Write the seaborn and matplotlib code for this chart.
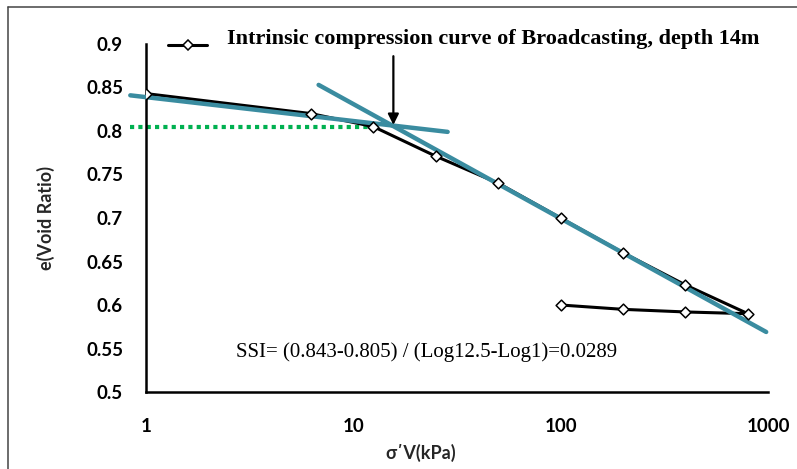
import numpy as np
import matplotlib
matplotlib.use("Agg")
import matplotlib.pyplot as plt
from matplotlib.lines import Line2D
from matplotlib.ticker import FuncFormatter, NullLocator, FixedLocator
import seaborn as sns

# Oedometer test: effective vertical stress (kPa) and void ratio, loading then unloading
stress_kpa = [1, 6.25, 12.5, 25, 50, 100, 200, 400, 800, 400, 200, 100]
void_ratio = [0.843, 0.820, 0.805, 0.771, 0.740, 0.700, 0.660, 0.623, 0.590, 0.592, 0.595, 0.600]

# Construction lines: recompression tangent, virgin compression tangent, e at yield
recomp_x = [0.84, 28.5]
recomp_e = [0.841, 0.799]
virgin_x = [6.8, 980]
virgin_e = [0.853, 0.569]
yield_x = [0.84, 13.5]
yield_e = [0.805, 0.805]

# Intersection of the two tangents (yield point)
arrow_x = 15.6
arrow_e = [0.886, 0.807]

x_ticks = [1, 10, 100, 1000]
y_ticks = [0.5, 0.55, 0.6, 0.65, 0.7, 0.75, 0.8, 0.85, 0.9]

curve_label = "Intrinsic compression curve of Broadcasting, depth 14m"
ssi_text = "SSI= (0.843-0.805) / (Log12.5-Log1)=0.0289"

sns.set_style("white")
plt.rcParams["font.family"] = ["Lato", "DejaVu Sans"]

W, H = 797, 469
fig = plt.figure(figsize=(W / 100, H / 100), dpi=100)
ax_l, ax_r, ax_t, ax_b = 146, 768, 44, 392
ax = fig.add_axes([ax_l / W, 1 - ax_b / H, (ax_r - ax_l) / W, (ax_b - ax_t) / H])

teal = "#3A8CA0"
green = "#00B050"

# Void ratio curve
sns.lineplot(x=stress_kpa, y=void_ratio, sort=False, estimator=None,
             color="black", lw=2.2, ax=ax, zorder=3)

# Tangent lines and yield level
sns.lineplot(x=recomp_x, y=recomp_e, sort=False, estimator=None,
             color=teal, lw=3.2, ax=ax, zorder=4)
sns.lineplot(x=virgin_x, y=virgin_e, sort=False, estimator=None,
             color=teal, lw=3.2, ax=ax, zorder=4)
sns.lineplot(x=yield_x, y=yield_e, sort=False, estimator=None,
             color=green, lw=3.0, ax=ax, zorder=2)
for ln in ax.lines[1:]:
    ln.set_clip_on(False)
ax.lines[3].set_linestyle((0, (1, 1)))
ax.lines[3].set_dash_capstyle("butt")

# Data markers on top of everything
sns.scatterplot(x=stress_kpa, y=void_ratio, marker="D", s=30,
                facecolor="white", edgecolor="black", linewidth=1.1,
                ax=ax, zorder=6)

ax.annotate("", xy=(arrow_x, arrow_e[1]), xytext=(arrow_x, arrow_e[0]),
            arrowprops=dict(arrowstyle="-|>", color="black", lw=1.6,
                            mutation_scale=16, shrinkA=0, shrinkB=0),
            zorder=7, annotation_clip=False)

ax.text(2.72, 0.546, ssi_text, family="Liberation Serif", fontsize=15,
        va="center", ha="left", color="black")

ax.set_xscale("log")
ax.set_xlim(1, 1000)
ax.set_ylim(0.5, 0.9)
ax.xaxis.set_major_locator(FixedLocator(x_ticks))
ax.xaxis.set_minor_locator(NullLocator())
ax.xaxis.set_major_formatter(FuncFormatter(lambda v, p: f"{v:g}"))
ax.set_yticks(y_ticks)
ax.yaxis.set_major_formatter(FuncFormatter(lambda v, p: f"{v:g}"))

for side in ("top", "right"):
    ax.spines[side].set_visible(False)
for side in ("left", "bottom"):
    ax.spines[side].set_color("black")
    ax.spines[side].set_linewidth(1.8)

ax.tick_params(axis="both", which="major", direction="out", length=5.5,
               width=1.5, color="black", labelsize=13.5, labelcolor="black")
ax.tick_params(axis="y", pad=11)
ax.tick_params(axis="x", pad=13)
for lab in ax.get_xticklabels() + ax.get_yticklabels():
    lab.set_fontweight("bold")

ax.set_xlabel("σ΄V(kPa)", fontsize=13, fontweight="bold", va="center")
ax.xaxis.set_label_coords((421 - ax_l) / (ax_r - ax_l), -(453 - ax_b) / (ax_b - ax_t))
ax.set_ylabel("e(Void Ratio)", fontsize=13, fontweight="bold", va="center")
ax.yaxis.set_label_coords(-(ax_l - 46) / (ax_r - ax_l), 0.5)

# Series key: sample line with marker, then its caption
key_y = 1 - 45 / H
fig.add_artist(Line2D([168 / W, 207 / W], [key_y, key_y], transform=fig.transFigure,
                      color="black", lw=2.2))
fig.add_artist(Line2D([187.5 / W], [key_y], transform=fig.transFigure, marker="D",
                      markersize=5.5, markerfacecolor="white", markeredgecolor="black",
                      markeredgewidth=1.1, linestyle="none"))
fig.text(227 / W, 1 - 44 / H, curve_label, family="Liberation Serif",
         fontweight="bold", fontsize=16, va="baseline", ha="left", color="black")

# Chart-area border
fig.add_artist(Line2D([8 / W, 8 / W], [-0.01, 1 - 7 / H], transform=fig.transFigure,
                      color="#444444", lw=1.1))
fig.add_artist(Line2D([8 / W, 1.01], [1 - 7 / H, 1 - 7 / H], transform=fig.transFigure,
                      color="#444444", lw=1.1))

fig.savefig("out.png", dpi=100, facecolor="white")
